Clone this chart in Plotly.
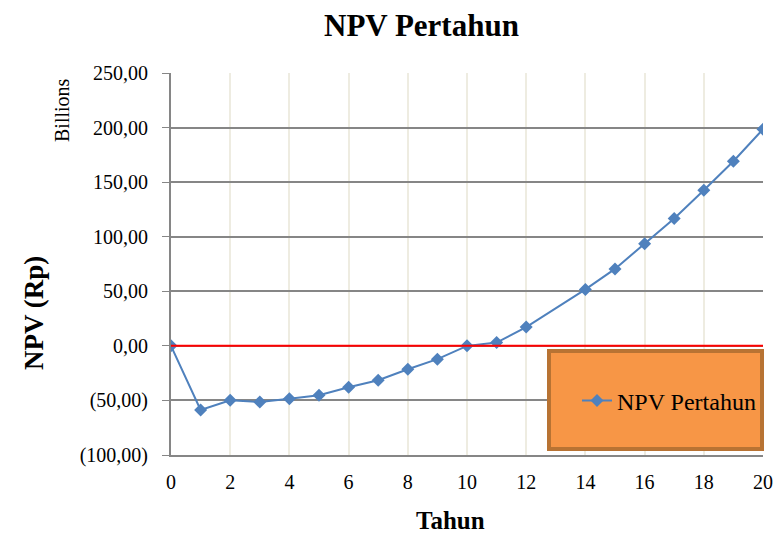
import plotly.graph_objects as go

tahun = [0, 1, 2, 3, 4, 5, 6, 7, 8, 9, 10, 11, 12, 14, 15, 16, 17, 18, 19, 20]
npv = [0, -58.8, -49.9, -51.5, -48.4, -45.3, -38.0, -31.5, -21.4, -12.2, 0.0,
       3.0, 17.2, 51.7, 70.5, 93.5, 116.7, 142.5, 169.1, 198.5]
y_ticks = [-100, -50, 0, 50, 100, 150, 200, 250]
y_labels = ["(100,00)", "(50,00)", "0,00", "50,00", "100,00", "150,00", "200,00", "250,00"]
x_ticks = list(range(0, 21, 2))

FONT = "Liberation Serif, Times New Roman, serif"
L, R, T, B = 171, 763, 73, 455
W, H = R - L, B - T


def px(xp):
    return (xp - L) / W


def py(yp):
    return (B - yp) / H


fig = go.Figure()
fig.add_trace(go.Scatter(
    x=tahun, y=npv, mode="lines+markers", name="NPV Pertahun",
    line=dict(color="#4F81BD", width=2),
    marker=dict(symbol="diamond", size=10, color="#4F81BD"),
))

# red zero line
fig.add_shape(type="line", xref="x", yref="y", x0=0, x1=20, y0=0, y1=0,
              line=dict(color="#FF0000", width=2), layer="above")
# legend box
fig.add_shape(type="rect", xref="paper", yref="paper",
              x0=px(549), x1=px(762), y0=py(449), y1=py(351),
              fillcolor="#F79646", line=dict(color="#B87333", width=4), layer="above")

fig.update_layout(
    width=776, height=538,
    margin=dict(l=L, r=776 - R, t=T, b=538 - B, autoexpand=False),
    paper_bgcolor="white", plot_bgcolor="white",
    font=dict(family=FONT, color="black", size=20),
    showlegend=True,
    legend=dict(x=px(577), y=py(401), xanchor="left", yanchor="middle",
                bgcolor="rgba(0,0,0,0)", borderwidth=0,
                font=dict(size=24, family=FONT, color="black")),
    xaxis=dict(range=[0, 20], tickvals=x_ticks, showgrid=True, gridcolor="#EEECE1", gridwidth=2,
               showline=True, linecolor="#868686", linewidth=2, zeroline=False,
               ticks="", ticklabelstandoff=8, automargin=False,
               tickfont=dict(size=20, family=FONT, color="black")),
    yaxis=dict(range=[-100, 250], tickvals=y_ticks, ticktext=y_labels, showgrid=True,
               gridcolor="#868686", gridwidth=2, showline=True, linecolor="#868686", linewidth=2,
               zeroline=False, ticks="outside", ticklen=7, tickcolor="#868686", tickwidth=1,
               ticklabelstandoff=10, automargin=False,
               tickfont=dict(size=20, family=FONT, color="black")),
)

annots = [
    dict(text="<b>NPV Pertahun</b>", x=px(421), y=py(26), size=31, angle=0),
    dict(text="<b>Tahun</b>", x=px(450), y=py(520), size=25, angle=0),
    dict(text="<b>NPV (Rp)</b>", x=px(34), y=py(313), size=27, angle=-90),
    dict(text="Billions", x=px(62), y=py(110), size=20, angle=-90),
]
for a in annots:
    fig.add_annotation(text=a["text"], xref="paper", yref="paper", x=a["x"], y=a["y"],
                       showarrow=False, textangle=a["angle"], xanchor="center", yanchor="middle",
                       font=dict(size=a["size"], family=FONT, color="black"))

fig.write_html("out.html")
